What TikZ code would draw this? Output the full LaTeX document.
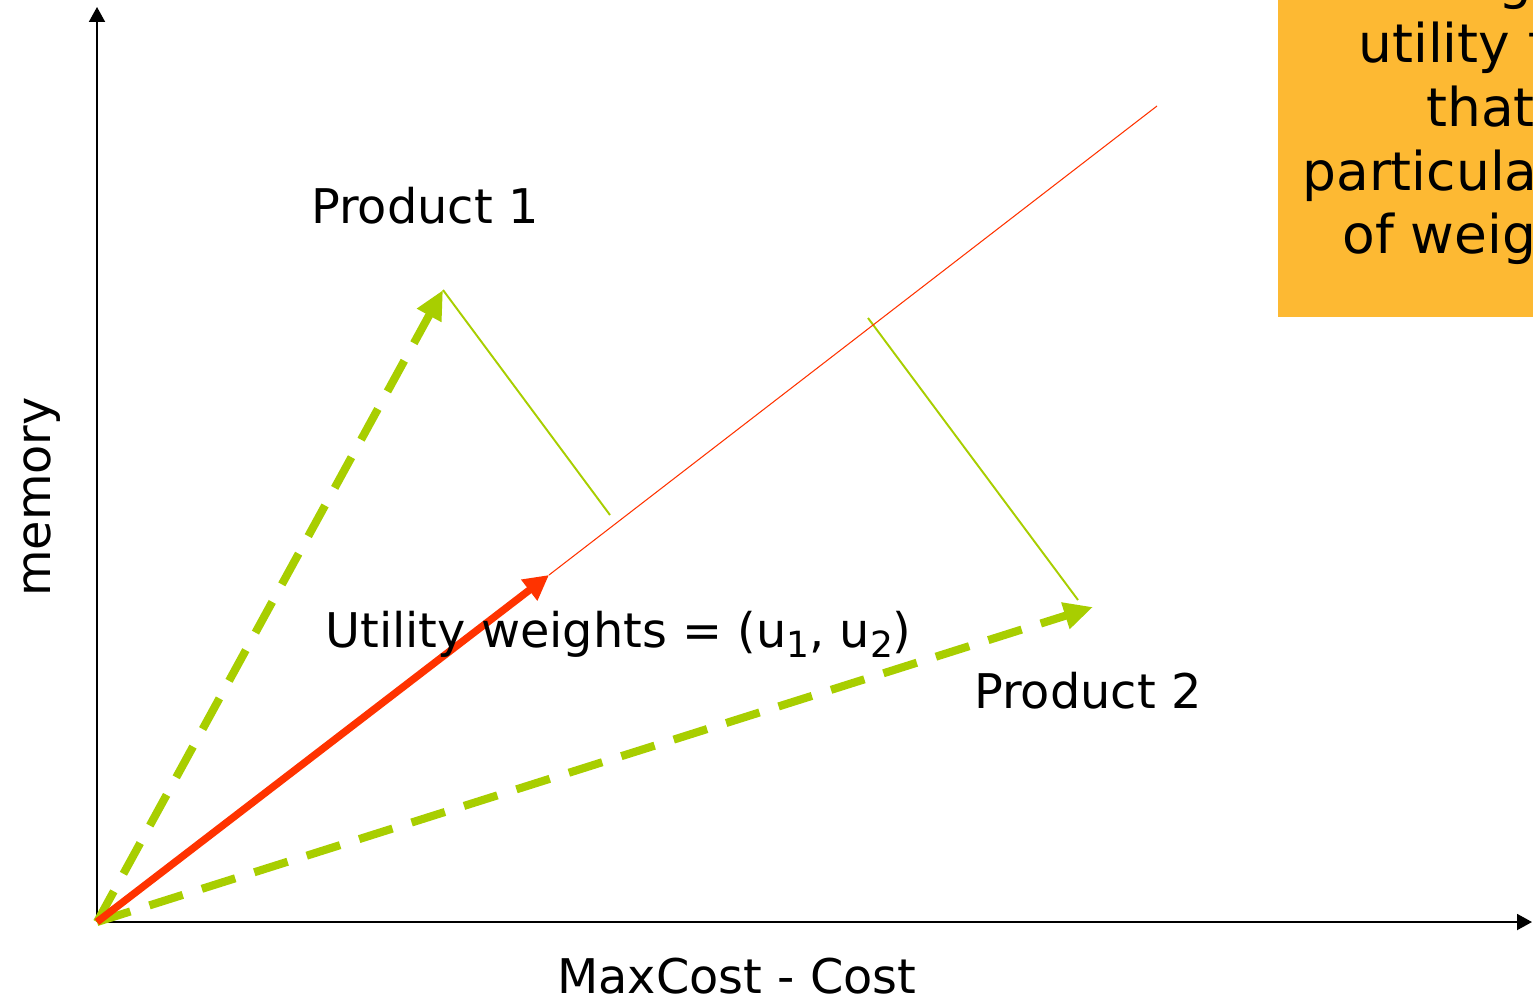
\documentclass[tikz,border=0pt]{standalone}
\usepackage{fontspec}
\setmainfont{DejaVu Sans}
\usetikzlibrary{arrows.meta}
\definecolor{leafgreen}{RGB}{168,206,0}
\definecolor{vecred}{RGB}{255,51,0}
\definecolor{noteorange}{RGB}{253,185,51}
\newcommand{\lblsize}{\fontsize{27.2}{32}\selectfont}
\newcommand{\notesize}{\fontsize{30.4}{36}\selectfont}
\newcommand{\idx}[1]{\raisebox{-0.2cm}{\fontsize{20.5}{24}\selectfont #1}}

\begin{document}
\begin{tikzpicture}[x=0.02cm,y=-0.02cm,
  axis/.style={black,line width=1.1pt,-{Triangle[length=0.3cm,width=0.32cm]}},
  prodvec/.style={leafgreen,line width=4.6pt,dash pattern=on 0.7cm off 0.4cm,-{Triangle[length=0.58cm,width=0.52cm]}},
  proj/.style={leafgreen,line width=1.1pt},
  lbl/.style={inner sep=0,font=\lblsize},
  notetxt/.style={inner sep=0,font=\notesize,anchor=base west}]
\useasboundingbox (0,0) rectangle (1533,1003);
\clip (0,0) rectangle (1533,1003);
% note box, cut by the page edge
\fill[noteorange] (1278,-20) rectangle (1560,317);
\node[notetxt] (n0) at (1498,-1) {g};
\node[notetxt] (n1) at (1358,63) {utility\kern0.35em f};
\node[notetxt] (n2) at (1426,127) {that};
\node[notetxt] (n3) at (1302,191) {particula};
\node[notetxt] (n4) at (1342,254) {of weig};
% axes
\coordinate (O) at (97,922);
\coordinate (ytop) at (97,7);
\coordinate (xend) at (1532,922);
\draw[axis] (O)--(ytop);
\draw[axis] (O)--(xend);
% products and weights
\coordinate (p1) at (443,290);
\coordinate (p2) at (1093,607);
\coordinate (w) at (549,575);
\coordinate (wend) at (1157,106);
\coordinate (f1) at (610,515);
\coordinate (f2) at (868,318);
\draw[proj] (p1)--(f1);
\draw[proj] (f2)--(1078,600);
\draw[prodvec] (O)--(p1);
\draw[prodvec] (O)--(p2);
\draw[vecred,line width=0.6pt] (w)--(wend);
\draw[vecred,line width=4.2pt,-{Triangle[length=0.5cm,width=0.5cm]}] (O)--(w);
% labels
\node[lbl,anchor=base west] (p1lbl) at (311,224) {Product 1};
\node[lbl,anchor=base west] (p2lbl) at (974,708) {Product 2};
\node[lbl,anchor=base west] (wlbl) at (325,647) {Utility weights = (u\idx{1}, u\idx{2})};
\node[lbl,anchor=base west] (xlbl) at (557,993) {MaxCost - Cost};
\node[lbl,anchor=base,rotate=90] (ylbl) at (50,497) {memory};
\end{tikzpicture}
\end{document}
